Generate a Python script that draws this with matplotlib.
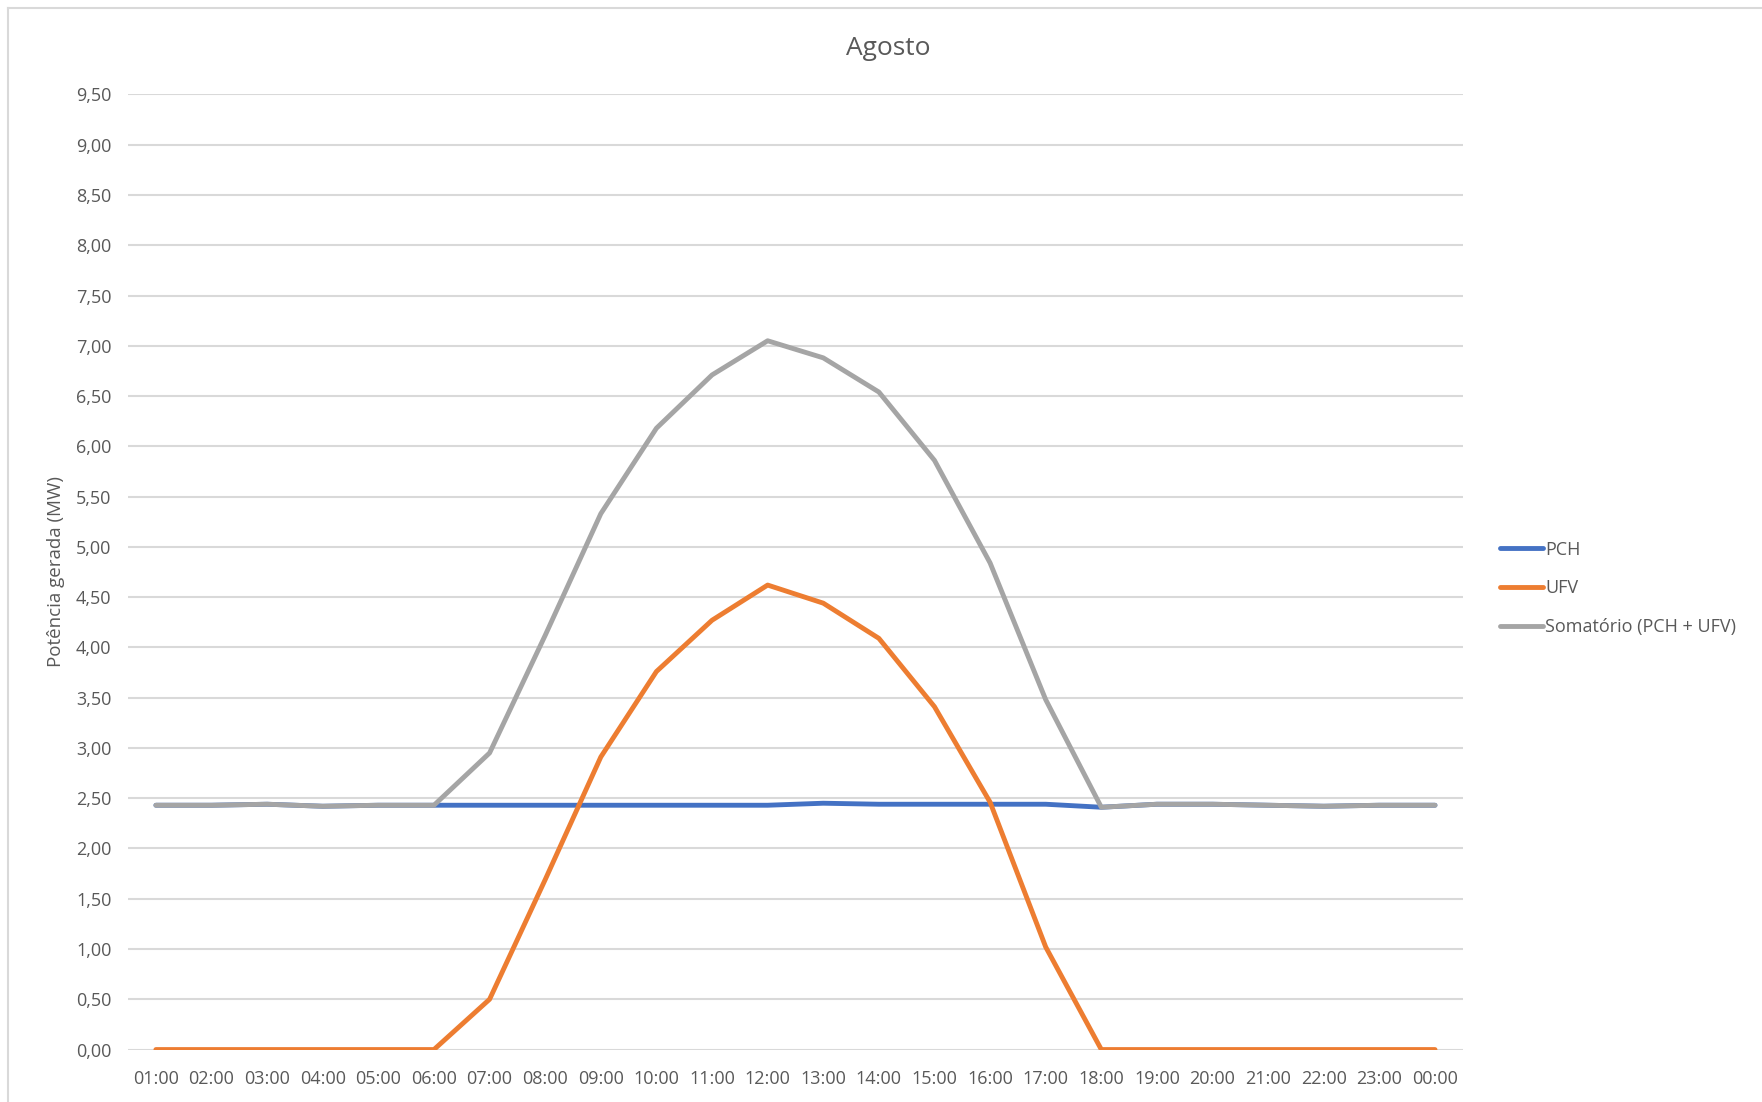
import numpy as np
from matplotlib import pyplot as plt

horas = ['01:00', '02:00', '03:00', '04:00', '05:00', '06:00', '07:00', '08:00',
         '09:00', '10:00', '11:00', '12:00', '13:00', '14:00', '15:00', '16:00',
         '17:00', '18:00', '19:00', '20:00', '21:00', '22:00', '23:00', '00:00']

pch = [2.43, 2.43, 2.44, 2.42, 2.43, 2.43, 2.43, 2.43, 2.43, 2.43, 2.43, 2.43,
       2.45, 2.44, 2.44, 2.44, 2.44, 2.41, 2.44, 2.44, 2.43, 2.42, 2.43, 2.43]
ufv = [0.00, 0.00, 0.00, 0.00, 0.00, 0.00, 0.50, 1.69, 2.91, 3.76, 4.27, 4.62,
       4.44, 4.09, 3.41, 2.46, 1.02, 0.00, 0.00, 0.00, 0.00, 0.00, 0.00, 0.00]
soma = [2.43, 2.43, 2.44, 2.42, 2.43, 2.43, 2.95, 4.12, 5.33, 6.18, 6.71, 7.05,
        6.88, 6.54, 5.86, 4.84, 3.48, 2.41, 2.44, 2.44, 2.43, 2.42, 2.43, 2.43]

plt.rcParams['font.family'] = ['Open Sans', 'DejaVu Sans']

fig = plt.figure(figsize=(17.62, 11.02), dpi=100)
ax = fig.add_axes([0.0727, 0.0476, 0.7575, 0.8667])

x = np.arange(len(horas))
ax.plot(x, pch, color='#4472C4', linewidth=3.5, label='PCH', solid_capstyle='round')
ax.plot(x, ufv, color='#ED7D31', linewidth=3.5, label='UFV', solid_capstyle='round')
ax.plot(x, soma, color='#A5A5A5', linewidth=3.5, label='Somatório (PCH + UFV)',
        solid_capstyle='round')

ax.set_xlim(-0.5, len(horas) - 0.5)
ax.set_ylim(0, 9.5)
ax.set_yticks(np.arange(0, 9.51, 0.5))
ax.set_yticklabels([f'{v:.2f}'.replace('.', ',') for v in np.arange(0, 9.51, 0.5)])
ax.set_xticks(x)
ax.set_xticklabels(horas)
ax.tick_params(axis='both', length=0, labelsize=13, colors='#595959')
ax.tick_params(axis='x', pad=15)
ax.tick_params(axis='y', pad=12)
ax.grid(axis='y', color='#D9D9D9', linewidth=1.5)
ax.set_axisbelow(True)
for s in ax.spines.values():
    s.set_visible(False)

ax.set_ylabel('Potência gerada (MW)', fontsize=13.5, color='#595959', labelpad=8)
fig.text(0.504, 0.956, 'Agosto', fontsize=19, color='#595959', ha='center', va='center')

fig.legend(loc='center left', bbox_to_anchor=(0.842, 0.466), frameon=False,
           fontsize=13, labelcolor='#595959', handlelength=2.4, handletextpad=0.1,
           labelspacing=1.15)

# moldura do grafico
fig.add_artist(plt.Line2D([0.0045, 0.0045], [0, 0.993], color='#D9D9D9', linewidth=1.5))
fig.add_artist(plt.Line2D([0.0045, 1], [0.993, 0.993], color='#D9D9D9', linewidth=1.5))

fig.savefig('out.png', dpi=100)
